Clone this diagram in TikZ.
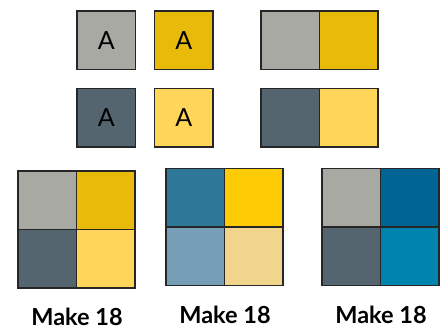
\documentclass[tikz,border=0pt]{standalone}
\usepackage{fontspec}
\setmainfont{Lato}
\definecolor{cgray}{HTML}{A8A9A2}
\definecolor{cgold}{HTML}{E8BA0A}
\definecolor{cslate}{HTML}{546570}
\definecolor{cyellow}{HTML}{FFD55A}
\definecolor{csteel}{HTML}{2E7799}
\definecolor{csun}{HTML}{FFCB05}
\definecolor{cpale}{HTML}{779EB7}
\definecolor{csand}{HTML}{F2D58D}
\definecolor{cnavy}{HTML}{006595}
\definecolor{ccyan}{HTML}{0083AE}
\begin{document}
\begin{tikzpicture}[x=1pt,y=-1pt,
  cell/.style={draw=black!85,line width=1.1pt,minimum width=58.5pt,minimum height=58.5pt,
    inner sep=0pt,outer sep=0pt,anchor=north west,font=\fontsize{25}{25}\selectfont},
  lbl/.style={anchor=base,font=\fontsize{23.5}{24}\selectfont\bfseries}]
\useasboundingbox (0,0) rectangle (447,327);
% top single tiles
\node[cell,fill=cgray] (a1) at (77,11) {A};
\node[cell,fill=cgold] (a2) at (154.5,11) {A};
\node[cell,fill=cslate] (a3) at (77,88.5) {A};
\node[cell,fill=cyellow] (a4) at (154.5,88.5) {A};
% pairs
\node[cell,fill=cgray] (p1) at (261,11) {};
\node[cell,fill=cgold] (p2) at (319.5,11) {};
\node[cell,fill=cslate] (p3) at (261,88.5) {};
\node[cell,fill=cyellow] (p4) at (319.5,88.5) {};
% grid 1
\node[cell,fill=cgray] (g11) at (18,171) {};
\node[cell,fill=cgold] (g12) at (76.5,171) {};
\node[cell,fill=cslate] (g13) at (18,229.5) {};
\node[cell,fill=cyellow] (g14) at (76.5,229.5) {};
% grid 2
\node[cell,fill=csteel] (g21) at (166,168.5) {};
\node[cell,fill=csun] (g22) at (224.5,168.5) {};
\node[cell,fill=cpale] (g23) at (166,227) {};
\node[cell,fill=csand] (g24) at (224.5,227) {};
% grid 3
\node[cell,fill=cgray] (g31) at (322,168.5) {};
\node[cell,fill=cnavy] (g32) at (380.5,168.5) {};
\node[cell,fill=cslate] (g33) at (322,227) {};
\node[cell,fill=ccyan] (g34) at (380.5,227) {};
% labels
\node[lbl] (l1) at (77,325) {Make 18};
\node[lbl] (l2) at (225,323) {Make 18};
\node[lbl] (l3) at (381,323) {Make 18};
\end{tikzpicture}
\end{document}
